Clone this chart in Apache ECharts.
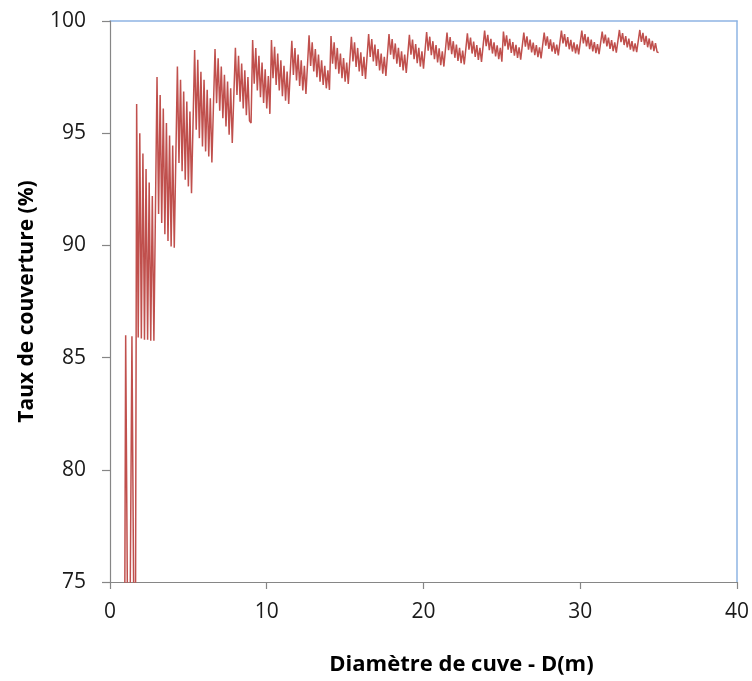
<!DOCTYPE html>
<html><head><meta charset="utf-8">
<script src="https://cdn.jsdelivr.net/npm/echarts@6/dist/echarts.min.js"></script>
<style>html,body{margin:0;padding:0;background:#fff}#c{width:752px;height:681px}</style>
</head><body><div id="c"></div>
<script>
// Axis ticks
const xTicks = [0, 10, 20, 30, 40];
const yTicks = [75, 80, 85, 90, 95, 100];
const xTitle = 'Diamètre de cuve - D(m)';
const yTitle = 'Taux de couverture (%)';

// Diameter step between successive computed points (m)
const stepD = 0.1;
// Diameter (m) at which each saw-tooth group starts
const groupStartD = [0.9, 1.7, 3.0, 4.3, 5.4, 6.7, 8.0, 9.1, 10.3, 11.6, 12.7, 14.1, 15.4, 16.5,
  17.8, 19.1, 20.2, 21.5, 22.8, 23.9, 25.1, 26.4, 27.7, 28.8, 30.1, 31.4, 32.5, 33.8];
// Coverage rate (%) read point by point inside each group
const groupTaux = [
  [65, 86.0, 86.0, 65, 65, 85.95, 85.95, 65],
  [96.3, 85.9, 95.0, 85.85, 94.1, 85.8, 93.4, 85.8, 92.8, 85.75, 92.2, 85.75, 85.7],
  [97.5, 91.4, 96.7, 91.0, 96.1, 90.5, 95.45, 90.2, 94.9, 89.95, 94.45, 89.9, 89.85],
  [97.97, 93.67, 97.38, 93.3, 96.86, 92.93, 96.41, 92.63, 95.97, 92.33, 92.3],
  [98.71, 95.15, 98.27, 94.78, 97.74, 94.41, 97.38, 94.19, 96.93, 93.96, 96.56, 93.7, 93.67],
  [98.75, 96.34, 98.34, 96.0, 97.97, 95.67, 97.6, 95.3, 97.3, 94.93, 97.0, 94.56, 94.5],
  [98.81, 96.7, 98.45, 96.4, 98.1, 96.1, 97.8, 95.8, 97.5, 95.55, 95.45],
  [99.15, 97.2, 98.8, 96.9, 98.45, 96.6, 98.15, 96.35, 97.85, 96.1, 97.55, 95.86],
  [99.15, 97.45, 98.85, 97.15, 98.55, 96.9, 98.25, 96.65, 98.0, 96.45, 97.75, 96.3, 96.22],
  [99.12, 97.6, 98.8, 97.35, 98.5, 97.1, 98.25, 96.9, 98.0, 96.75, 96.71],
  [99.36, 98.0, 99.05, 97.75, 98.75, 97.5, 98.5, 97.3, 98.25, 97.15, 98.0, 97.0, 97.8, 96.93],
  [99.33, 98.1, 99.05, 97.85, 98.8, 97.65, 98.55, 97.45, 98.35, 97.3, 98.15, 97.2, 97.15],
  [99.3, 98.2, 99.05, 97.95, 98.8, 97.75, 98.6, 97.55, 98.4, 97.42, 97.38],
  [99.42, 98.4, 99.2, 98.2, 98.95, 98.0, 98.75, 97.8, 98.55, 97.65, 98.4, 97.55, 97.52],
  [99.42, 98.5, 99.2, 98.3, 99.0, 98.1, 98.8, 97.95, 98.65, 97.8, 98.5, 97.68, 97.64],
  [99.38, 98.5, 99.17, 98.3, 98.97, 98.12, 98.8, 97.97, 98.65, 97.88, 97.85],
  [99.51, 98.68, 99.3, 98.48, 99.1, 98.3, 98.93, 98.15, 98.78, 98.03, 98.65, 97.97, 97.94],
  [99.48, 98.7, 99.28, 98.52, 99.1, 98.36, 98.95, 98.22, 98.8, 98.12, 98.68, 98.06, 98.04],
  [99.45, 98.72, 99.26, 98.55, 99.08, 98.4, 98.93, 98.27, 98.8, 98.18, 98.14],
  [99.57, 98.88, 99.38, 98.7, 99.2, 98.55, 99.05, 98.42, 98.92, 98.3, 98.8, 98.19],
  [99.53, 98.88, 99.36, 98.72, 99.2, 98.58, 99.06, 98.46, 98.94, 98.36, 98.83, 98.28, 98.23],
  [99.48, 98.86, 99.32, 98.72, 99.17, 98.6, 99.04, 98.48, 98.93, 98.39, 98.83, 98.33, 98.3],
  [99.48, 98.9, 99.32, 98.76, 99.18, 98.64, 99.05, 98.54, 98.95, 98.47, 98.44],
  [99.57, 99.0, 99.42, 98.86, 99.28, 98.74, 99.16, 98.64, 99.05, 98.56, 98.96, 98.51, 98.49],
  [99.57, 99.0, 99.42, 98.87, 99.29, 98.75, 99.17, 98.65, 99.06, 98.57, 98.97, 98.52, 98.49],
  [99.53, 99.0, 99.39, 98.87, 99.26, 98.76, 99.15, 98.66, 99.05, 98.59, 98.56],
  [99.6, 99.06, 99.46, 98.93, 99.33, 98.82, 99.21, 98.72, 99.1, 98.65, 99.0, 98.61, 98.59],
  [99.6, 99.07, 99.47, 98.94, 99.34, 98.83, 99.22, 98.73, 99.11, 98.66, 99.01, 98.62, 98.59]
];

const points = [];
groupTaux.forEach((vals, g) => {
  vals.forEach((v, i) => {
    const d = Math.round((groupStartD[g] + i * stepD) * 10) / 10;
    points.push([d, v]);
  });
});

const FONT = '"Open Sans", sans-serif';
const GRAY = '#868686';
const BLUE = '#8EB4E3';
const xMin = xTicks[0], xMax = xTicks[xTicks.length - 1];
const yMin = yTicks[0], yMax = yTicks[yTicks.length - 1];
const chart = echarts.init(document.getElementById('c'), null, { renderer: 'canvas' });
chart.setOption({
  animation: false,
  backgroundColor: '#ffffff',
  grid: { left: 110, right: 14, top: 21, bottom: 98, show: false },
  xAxis: [{
    type: 'value', min: xMin, max: xMax, interval: xTicks[1] - xTicks[0],
    name: xTitle, nameLocation: 'middle', nameGap: 72,
    nameTextStyle: { fontFamily: FONT, fontSize: 22, fontWeight: 'bold', color: '#000', padding: [0, 0, 0, 76] },
    axisLine: { show: true, onZero: false, lineStyle: { color: GRAY, width: 1.2 } },
    axisTick: { show: true, inside: false, length: 7, lineStyle: { color: GRAY, width: 1.2 } },
    axisLabel: { margin: 20, fontFamily: FONT, fontSize: 21, color: '#1a1a1a' },
    splitLine: { show: false }, z: 3
  }, {
    type: 'value', position: 'top', min: xMin, max: xMax,
    axisLine: { show: true, onZero: false, lineStyle: { color: BLUE, width: 1.5 } },
    axisTick: { show: false }, axisLabel: { show: false }, splitLine: { show: false }
  }],
  yAxis: [{
    type: 'value', min: yMin, max: yMax, interval: yTicks[1] - yTicks[0],
    name: yTitle, nameLocation: 'middle', nameGap: 72, nameRotate: 90,
    nameTextStyle: { fontFamily: FONT, fontSize: 21, fontWeight: 'bold', color: '#000' },
    axisLine: { show: true, onZero: false, lineStyle: { color: GRAY, width: 1.2 } },
    axisTick: { show: true, inside: false, length: 8, lineStyle: { color: GRAY, width: 1.2 } },
    axisLabel: { margin: 24, fontFamily: FONT, fontSize: 21, color: '#1a1a1a' },
    splitLine: { show: false }, z: 3
  }, {
    type: 'value', position: 'right', min: yMin, max: yMax,
    axisLine: { show: true, onZero: false, lineStyle: { color: BLUE, width: 1.5 } },
    axisTick: { show: false }, axisLabel: { show: false }, splitLine: { show: false }
  }],
  series: [{
    type: 'line', data: points, symbol: 'none', showSymbol: false, clip: true,
    xAxisIndex: 0, yAxisIndex: 0,
    lineStyle: { color: '#C0504D', width: 1.5 }
  }]
});
</script></body></html>
